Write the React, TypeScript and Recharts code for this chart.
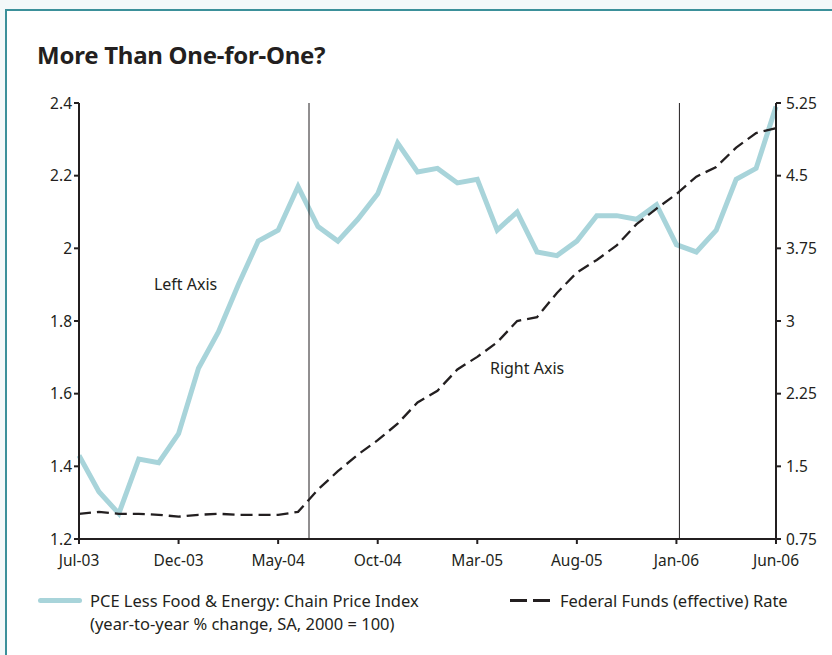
import React from "react";
import {
  LineChart, Line, XAxis, YAxis, ReferenceLine, ReferenceDot
} from "recharts";

// monthly, Jul-03 .. Jun-06
const months = [
  "Jul-03", "Aug-03", "Sep-03", "Oct-03", "Nov-03", "Dec-03",
  "Jan-04", "Feb-04", "Mar-04", "Apr-04", "May-04", "Jun-04",
  "Jul-04", "Aug-04", "Sep-04", "Oct-04", "Nov-04", "Dec-04",
  "Jan-05", "Feb-05", "Mar-05", "Apr-05", "May-05", "Jun-05",
  "Jul-05", "Aug-05", "Sep-05", "Oct-05", "Nov-05", "Dec-05",
  "Jan-06", "Feb-06", "Mar-06", "Apr-06", "May-06", "Jun-06",
];

// PCE less food & energy, yr/yr % change (left axis)
const pce = [
  1.43, 1.33, 1.27, 1.42, 1.41, 1.49,
  1.67, 1.77, 1.90, 2.02, 2.05, 2.17,
  2.06, 2.02, 2.08, 2.15, 2.29, 2.21,
  2.22, 2.18, 2.19, 2.05, 2.10, 1.99,
  1.98, 2.02, 2.09, 2.09, 2.08, 2.12,
  2.01, 1.99, 2.05, 2.19, 2.22, 2.39,
];

// Federal funds effective rate (right axis)
const fedFunds = [
  1.01, 1.03, 1.01, 1.01, 1.00, 0.98,
  1.00, 1.01, 1.00, 1.00, 1.00, 1.03,
  1.26, 1.45, 1.62, 1.77, 1.94, 2.16,
  2.28, 2.50, 2.63, 2.78, 3.00, 3.04,
  3.29, 3.50, 3.63, 3.78, 4.00, 4.16,
  4.31, 4.49, 4.59, 4.79, 4.94, 4.99,
];

const xTickLabels = ["Jul-03", "Dec-03", "May-04", "Oct-04", "Mar-05", "Aug-05", "Jan-06", "Jun-06"];
const leftTicks = [1.2, 1.4, 1.6, 1.8, 2, 2.2, 2.4];
const rightTicks = [0.75, 1.5, 2.25, 3, 3.75, 4.5, 5.25];

// vertical markers (month index, fractional)
const markers = [11.55, 30.15];

const data = months.map((m, i) => ({ i, month: m, pce: pce[i], ffr: fedFunds[i] }));
const xTicks = xTickLabels.map((l) => months.indexOf(l));

const INK = "#231f20";
const TEAL = "#a8d4da";
const FONT = "'Noto Sans', sans-serif";

export default function App() {
  const tickStyle = { fill: INK, fontSize: 15.5, fontFamily: FONT };
  return (
    <div style={{ position: "absolute", left: 0, top: 0, width: 832, height: 655, background: "#f3f8f9", overflow: "hidden", fontFamily: FONT, color: INK }}>
      <div style={{ position: "absolute", left: 5, top: 9, width: 840, height: 660, background: "#fff", borderTop: "2px solid #3b909a", borderLeft: "2px solid #3b909a" }} />
      <div style={{ position: "absolute", left: 37, top: 38, fontSize: 24, fontWeight: 700, letterSpacing: -0.25, whiteSpace: "nowrap" }}>
        More Than One-for-One?
      </div>
      <div style={{ position: "absolute", left: 0, top: 0 }}>
        <LineChart width={832} height={580} data={data} margin={{ top: 103, right: 0, left: 0, bottom: 0 }}>
          <XAxis
            dataKey="i" type="number" domain={[0, 35]} ticks={xTicks}
            tickFormatter={(v) => months[v]} stroke={INK} strokeWidth={2}
            tickSize={5} tickMargin={11} height={41} tick={tickStyle} interval={0}
          />
          <YAxis
            yAxisId="left" domain={[1.2, 2.4]} ticks={leftTicks} stroke={INK} strokeWidth={2}
            width={79} tickSize={5} tickMargin={2} tick={tickStyle} interval={0}
          />
          <YAxis
            yAxisId="right" orientation="right" domain={[0.75, 5.25]} ticks={rightTicks}
            stroke={INK} strokeWidth={2} width={56} tickSize={5} tickMargin={5} tick={tickStyle} interval={0}
          />
          <Line yAxisId="left" dataKey="pce" stroke={TEAL} strokeWidth={5} dot={false} isAnimationActive={false} strokeLinejoin="miter" />
          <Line yAxisId="right" dataKey="ffr" stroke={INK} strokeWidth={2.3} strokeDasharray="12 6" dot={false} isAnimationActive={false} />
          {markers.map((m) => (
            <ReferenceLine key={m} yAxisId="left" x={m} stroke={INK} strokeWidth={1} />
          ))}
          <ReferenceDot yAxisId="left" x={5.35} y={1.9} r={1} fill="none" stroke="none"
            label={{ value: "Left Axis", position: "center", fill: INK, fontSize: 16, fontFamily: FONT }} />
          <ReferenceDot yAxisId="left" x={22.5} y={1.67} r={1} fill="none" stroke="none"
            label={{ value: "Right Axis", position: "center", fill: INK, fontSize: 16, fontFamily: FONT }} />
        </LineChart>
      </div>
      {/* legend */}
      <div style={{ position: "absolute", left: 38, top: 598, width: 44, height: 5, borderRadius: 3, background: TEAL }} />
      <div style={{ position: "absolute", left: 90, top: 589, fontSize: 16.5, lineHeight: "23px", whiteSpace: "nowrap" }}>
        PCE Less Food &amp; Energy: Chain Price Index<br />(year-to-year % change, SA, 2000 = 100)
      </div>
      <div style={{ position: "absolute", left: 510, top: 599, width: 17, height: 2.5, background: INK }} />
      <div style={{ position: "absolute", left: 533, top: 599, width: 17, height: 2.5, background: INK }} />
      <div style={{ position: "absolute", left: 560, top: 589, fontSize: 16.5, lineHeight: "23px", whiteSpace: "nowrap" }}>
        Federal Funds (effective) Rate
      </div>
    </div>
  );
}
